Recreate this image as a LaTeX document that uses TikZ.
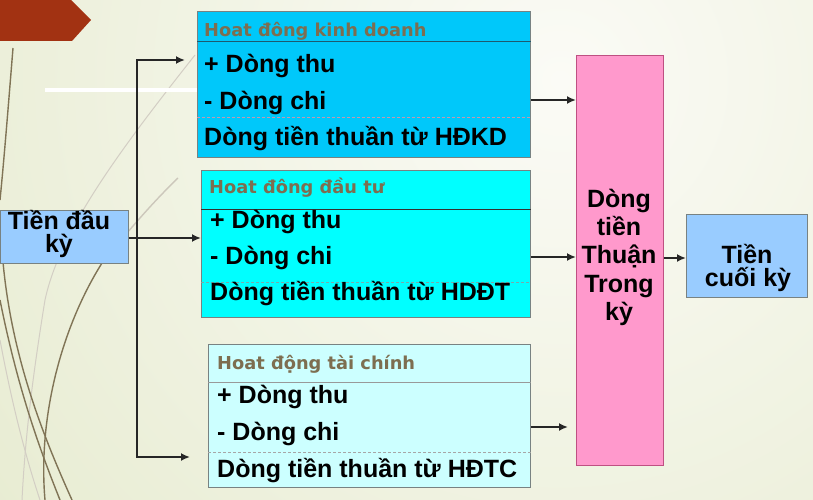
\documentclass[tikz,border=0pt]{standalone}
\usepackage{fontspec}
\setmainfont{Liberation Sans}
\newfontfamily\hdfont{DejaVu Sans}
\usetikzlibrary{arrows.meta}
\definecolor{bgin}{RGB}{251,251,246}
\definecolor{bgout}{RGB}{220,227,188}
\definecolor{redhex}{RGB}{162,50,18}
\definecolor{kdfill}{RGB}{0,200,250}
\definecolor{dtfill}{RGB}{0,255,255}
\definecolor{tcfill}{RGB}{204,255,255}
\definecolor{lbfill}{RGB}{153,204,255}
\definecolor{pkfill}{RGB}{255,153,204}
\definecolor{pkdraw}{RGB}{190,80,130}
\definecolor{hdcol}{RGB}{125,110,80}
\definecolor{decocol}{RGB}{128,116,86}
\definecolor{boxgray}{RGB}{120,130,130}
\begin{document}
\begin{tikzpicture}[x=1pt,y=-1pt,
  box/.style={draw=boxgray, line width=0.8pt, inner sep=0pt, anchor=north west},
  main/.style={font=\bfseries\fontsize{25}{28}\selectfont, inner sep=0pt, anchor=base west},
  mainc/.style={font=\bfseries\fontsize{25}{28}\selectfont, inner sep=0pt, anchor=base},
  hd/.style={font=\hdfont\bfseries\fontsize{17.8}{22}\selectfont, text=hdcol, inner sep=0pt, anchor=base west},
  arr/.style={line width=1.8pt, draw=black!85, -{Latex[length=9pt,width=8pt]}},
  bus/.style={line width=1.8pt, draw=black!85},
  deco/.style={draw=decocol, line width=1.4pt},
  faint/.style={draw=decocol!35, line width=1pt},
  sepline/.style={line width=1pt},
  dashline/.style={line width=0.9pt, dash pattern=on 3pt off 2pt}]
\useasboundingbox (0,0) rectangle (813,500);
% background
\fill[bgout] (0,0) rectangle (813,500);
\begin{scope}
  \clip (0,0) rectangle (813,500);
  \shade[inner color=bgin, outer color=bgout] (560,80) circle (1150);
\end{scope}
% decoration
\fill[redhex] (0,0) -- (71,0) -- (91,20) -- (72,41) -- (0,41) -- cycle;
\draw[faint] (195,55) .. controls (120,150) and (60,230) .. (45,300) .. controls (32,380) and (25,440) .. (22,500);
\draw[deco, draw=decocol!40] (178,178) .. controls (150,205) and (125,235) .. (102,263);
\draw[deco] (102,263) .. controls (60,330) and (38,420) .. (45,500);
\draw[deco] (13,48) .. controls (8,110) and (4,160) .. (0,200);
\draw[deco] (3,262) .. controls (12,360) and (45,440) .. (72,500);
\draw[deco] (0,300) .. controls (18,390) and (40,450) .. (60,500);
\draw[faint] (0,340) .. controls (15,420) and (30,470) .. (40,500);
\draw[white, line width=4pt] (45,90) -- (200,90);
% boxes
\node[box, fill=kdfill, minimum width=333pt, minimum height=146pt] (kd) at (197,11) {};
\node[box, fill=dtfill, minimum width=329pt, minimum height=147pt] (dt) at (201,170) {};
\node[box, fill=tcfill, minimum width=322pt, minimum height=143pt] (tc) at (208,344) {};
\node[box, fill=lbfill, minimum width=128pt, minimum height=53pt] (start) at (0,210) {};
\node[box, fill=pkfill, draw=pkdraw, minimum width=87pt, minimum height=410pt] (pk) at (576,55) {};
\node[box, fill=lbfill, minimum width=121pt, minimum height=83pt] (end) at (686,214) {};
% separators
\draw[sepline, draw={rgb,255:red,30;green,90;blue,110}] (kd.west |- 0,42) -- (kd.east |- 0,42);
\draw[dashline, draw={rgb,255:red,200;green,150;blue,170}] (kd.west |- 0,117) -- (kd.east |- 0,117);
\draw[sepline, draw=black!80] (dt.west |- 0,209) -- (dt.east |- 0,209);
\draw[dashline, draw={rgb,255:red,120;green,170;blue,170}] (dt.west |- 0,282) -- (dt.east |- 0,282);
\draw[sepline, draw=gray!80] (tc.west |- 0,382) -- (tc.east |- 0,382);
\draw[dashline, draw=gray!70] (tc.west |- 0,452) -- (tc.east |- 0,452);
% texts box 1
\node[hd] (kdh) at (204,37) {Hoat đông kinh doanh};
\node[main] (kd1) at (204,73) {+ Dòng thu};
\node[main] (kd2) at (204,110) {- Dòng chi};
\node[main] (kd3) at (204,146) {Dòng tiền thuần từ HĐKD};
% texts box 2
\node[hd] (dth) at (209,193) {Hoat đông đầu tư};
\node[main] (dt1) at (210,228) {+ Dòng thu};
\node[main] (dt2) at (210,264) {- Dòng chi};
\node[main] (dt3) at (210,300) {Dòng tiền thuần từ HDĐT};
% texts box 3
\node[hd] (tch) at (217,369) {Hoat động tài chính};
\node[main] (tc1) at (217,403) {+ Dòng thu};
\node[main] (tc2) at (217,440) {- Dòng chi};
\node[main] (tc3) at (217,477) {Dòng tiền thuần từ HĐTC};
% start / end / pink texts
\node[mainc] (s1) at (59,229) {Tiền đầu};
\node[mainc] (s2) at (59,252) {kỳ};
\node[mainc] (p1) at (619,207) {Dòng};
\node[mainc] (p2) at (619,235) {tiền};
\node[mainc] (p3) at (619,263) {Thuận};
\node[mainc] (p4) at (619,292) {Trong};
\node[mainc] (p5) at (619,320) {kỳ};
\node[mainc] (e1) at (747,263) {Tiền};
\node[mainc] (e2) at (748,286) {cuối kỳ};
% connectors
\coordinate (busT) at (137,60);
\coordinate (busB) at (137,457);
\coordinate (tipT) at (185,60);
\coordinate (tipB) at (190,457);
\coordinate (tipC) at (568,427);
\draw[bus, {Latex[length=9pt,width=8pt]}-{Latex[length=9pt,width=8pt]}] (tipT) -- (busT) -- (busB) -- (tipB);
\draw[arr] (start.east |- 0,238) -- (dt.west |- 0,238);
\draw[arr] (kd.east |- 0,100) -- (pk.west |- 0,100);
\draw[arr] (dt.east |- 0,257) -- (pk.west |- 0,257);
\draw[arr] (tc.east |- tipC) -- (tipC);
\draw[arr] (pk.east |- 0,258) -- (end.west |- 0,258);
\end{tikzpicture}
\end{document}
